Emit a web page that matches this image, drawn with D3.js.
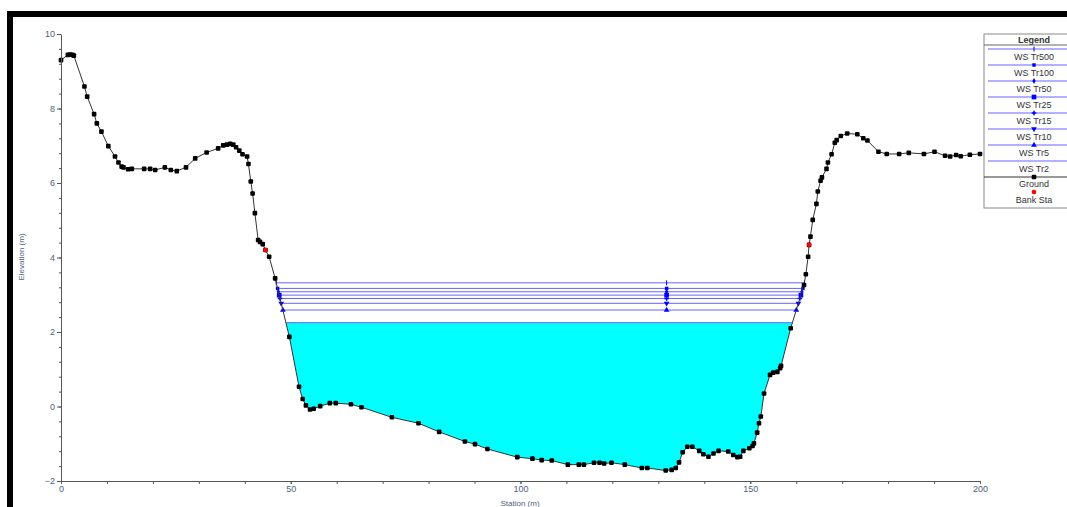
<!DOCTYPE html>
<html>
<head>
<meta charset="utf-8">
<script src="https://cdn.jsdelivr.net/npm/d3@7"></script>
<style>
  body { margin: 0; background: #fff; }
  svg { display: block; font-family: "Liberation Sans", Arial, sans-serif; }
</style>
</head>
<body>
<svg id="chart" width="1067" height="507"></svg>
<script>
// Ground profile (station m, elevation m)
const groundSta = [0, 1.5, 2.0, 2.5, 2.8, 5.1, 5.7, 7.2, 7.8, 8.8, 10.3, 11.75, 12.5, 13.2, 13.6, 14.6, 15.4,
  18.1, 19.4, 20.5, 22.6, 23.9, 25.2, 27.2, 29.2, 31.7, 34.2, 35.3, 36.1, 36.8, 37.5, 38.1, 38.8, 39.5,
  40.5, 40.8, 41.3, 41.7, 42.2, 42.9, 43.3, 43.9, 44.5, 45.3, 46.6, 49.7, 51.8, 52.6, 53.3, 54.2, 55.0,
  56.4, 58.5, 59.8, 63.1, 65.4, 72.0, 77.8, 82.3, 87.9, 90.1, 92.8, 99.3, 102.6, 104.6, 106.8, 110.3,
  112.7, 113.8, 116.0, 117.2, 118.2, 119.8, 122.7, 126.4, 127.6, 131.6, 132.9, 133.8, 134.5, 135.3,
  136.3, 137.4, 138.9, 139.8, 140.9, 142.0, 143.1, 145.2, 146.3, 147.2, 147.8, 148.5, 149.8, 150.5,
  150.8, 151.5, 151.9, 152.3, 153.0, 154.3, 155.0, 155.9, 156.5, 156.7, 158.8, 161.7, 162.1, 162.6,
  162.8, 163.1, 163.6, 164.4, 164.7, 165.3, 165.6, 166.6, 166.9, 167.7, 168.4, 168.8, 169.7, 171.1,
  173.3, 174.6, 175.5, 177.9, 179.7, 182.4, 184.5, 187.8, 190.1, 192.4, 193.5, 194.8, 195.8, 197.8, 200.0];
const groundElev = [9.30, 9.44, 9.45, 9.44, 9.42, 8.59, 8.32, 7.85, 7.60, 7.38, 6.99, 6.71, 6.55, 6.44, 6.42, 6.37, 6.38,
  6.38, 6.38, 6.35, 6.42, 6.35, 6.32, 6.42, 6.66, 6.82, 6.93, 7.01, 7.03, 7.05, 7.03, 6.96, 6.87, 6.77,
  6.71, 6.51, 6.04, 5.72, 5.19, 4.47, 4.42, 4.36, 4.20, 4.02, 3.44, 1.87, 0.53, 0.20, 0.03, -0.08, -0.06,
  0.01, 0.09, 0.09, 0.06, -0.02, -0.29, -0.45, -0.68, -0.94, -1.01, -1.14, -1.36, -1.40, -1.44, -1.45, -1.56,
  -1.56, -1.56, -1.51, -1.51, -1.53, -1.51, -1.56, -1.65, -1.65, -1.72, -1.70, -1.65, -1.50, -1.23,
  -1.08, -1.08, -1.19, -1.28, -1.35, -1.26, -1.19, -1.21, -1.30, -1.36, -1.35, -1.19, -1.12, -1.06,
  -0.99, -0.70, -0.45, -0.27, 0.35, 0.85, 0.91, 0.93, 1.03, 1.09, 2.10, 3.26, 3.55, 4.02,
  4.34, 4.56, 5.01, 5.44, 5.77, 6.06, 6.15, 6.38, 6.55, 6.77, 7.08, 7.15, 7.26, 7.33,
  7.31, 7.20, 7.14, 6.84, 6.78, 6.78, 6.81, 6.78, 6.84, 6.73, 6.71, 6.75, 6.72, 6.76, 6.78];

// Bank stations
const bankSta = [44.5, 162.8];
const bankElev = [4.20, 4.34];

// Water surface profiles
const wsNames = ["WS Tr500", "WS Tr100", "WS Tr50", "WS Tr25", "WS Tr15", "WS Tr10", "WS Tr5", "WS Tr2"];
const wsElev = [3.32, 3.17, 3.08, 2.99, 2.90, 2.77, 2.59, 2.25];
const wsMarkers = ["tick", "square", "dot", "bigsquare", "arch", "triDown", "triUp", "none"];
const wsMidSta = 131.8;

// Axis ticks
const xTicks = [0, 50, 100, 150, 200];
const xMinor = d3.range(0, 201, 10);
const yTicks = [-2, 0, 2, 4, 6, 8, 10];
const yMinor = d3.range(-2, 10.01, 0.4);

const svg = d3.select("#chart");
const x = d3.scaleLinear().domain([0, 200]).range([61, 980]);
const y = d3.scaleLinear().domain([-2, 10]).range([481, 34]);

const ground = groundSta.map((s, i) => ({ s: s, e: groundElev[i] }));

// frame
svg.append("rect").attr("x", 10).attr("y", 14).attr("width", 1100).attr("height", 600)
  .attr("fill", "none").attr("stroke", "#000").attr("stroke-width", 6);

// Ground with crossings inserted for a given water elevation
function withCrossings(ws) {
  const pts = [];
  for (let i = 0; i < ground.length; i++) {
    const a = ground[i];
    pts.push(a);
    const b = ground[i + 1];
    if (b && (a.e - ws) * (b.e - ws) < 0) {
      const t = (ws - a.e) / (b.e - a.e);
      pts.push({ s: a.s + t * (b.s - a.s), e: ws });
    }
  }
  return pts;
}
function crossings(ws) {
  const c = [];
  for (let i = 0; i < ground.length - 1; i++) {
    const a = ground[i], b = ground[i + 1];
    if ((a.e - ws) * (b.e - ws) <= 0 && a.e !== b.e) {
      c.push(a.s + (ws - a.e) / (b.e - a.e) * (b.s - a.s));
    }
  }
  return [c[0], c[c.length - 1]];
}

// Filled lowest profile (Tr2)
const wsLow = wsElev[wsElev.length - 1];
const fillArea = d3.area()
  .x(d => x(d.s))
  .y0(y(wsLow))
  .y1(d => y(Math.min(d.e, wsLow)));
svg.append("path").datum(withCrossings(wsLow))
  .attr("d", fillArea).attr("fill", "#00ffff");

// Water surface lines
const wsColor = "#6464ff";
wsElev.forEach((ws, i) => {
  const c = crossings(ws);
  svg.append("line")
    .attr("x1", x(c[0])).attr("x2", x(c[1]))
    .attr("y1", y(ws)).attr("y2", y(ws))
    .attr("stroke", wsColor).attr("stroke-width", 1);
});

// marker drawer
function drawMarker(g, type, cx, cy, color) {
  if (type === "none") return;
  if (type === "tick") {
    g.append("line").attr("x1", cx).attr("x2", cx).attr("y1", cy - 2.5).attr("y2", cy + 2.5)
      .attr("stroke", color).attr("stroke-width", 1);
    return;
  }
  let sym, size;
  if (type === "square") { sym = d3.symbolSquare; size = 12; }
  else if (type === "bigsquare") { sym = d3.symbolSquare; size = 22; }
  else if (type === "dot") { sym = d3.symbolDiamond; size = 10; }
  else if (type === "arch") { sym = d3.symbolCross; size = 12; }
  else if (type === "triDown") { sym = d3.symbolTriangle; size = 14; }
  else { sym = d3.symbolTriangle; size = 14; }
  const rot = type === "triDown" ? 180 : 0;
  g.append("path").attr("d", d3.symbol().type(sym).size(size)())
    .attr("transform", "translate(" + cx + "," + cy + ") rotate(" + rot + ")")
    .attr("fill", color);
}

// WS markers at bank ends and mid channel
const markG = svg.append("g");
wsElev.forEach((ws, i) => {
  const c = crossings(ws);
  [c[0], wsMidSta, c[1]].forEach(s => drawMarker(markG, wsMarkers[i], x(s), y(ws), "#0000ff"));
});

// Ground line
svg.append("path").datum(ground)
  .attr("d", d3.line().x(d => x(d.s)).y(d => y(d.e)))
  .attr("fill", "none").attr("stroke", "#333").attr("stroke-width", 1);
svg.append("g").selectAll("rect").data(ground).enter().append("rect")
  .attr("x", d => x(d.s) - 2.3).attr("y", d => y(d.e) - 2.3)
  .attr("width", 4.6).attr("height", 4.6).attr("rx", 1)
  .attr("fill", "#000");

// Bank stations
svg.append("g").selectAll("circle").data(bankSta).enter().append("circle")
  .attr("cx", d => x(d)).attr("cy", (d, i) => y(bankElev[i])).attr("r", 2.3)
  .attr("fill", "#ff0000");

// Axes
const labelColor = "#4f5d7c";
const yAxis = svg.append("g").attr("transform", "translate(61,0)")
  .call(d3.axisLeft(y).tickValues(yTicks).tickSize(4).tickSizeOuter(0).tickPadding(2));
svg.append("g").attr("transform", "translate(61,0)")
  .call(d3.axisLeft(y).tickValues(yMinor).tickSize(2).tickSizeOuter(0).tickFormat(""))
  .select(".domain").remove();
const xAxis = svg.append("g").attr("transform", "translate(0,481)")
  .call(d3.axisBottom(x).tickValues(xTicks).tickSize(3).tickSizeOuter(0).tickPadding(2));
svg.append("g").attr("transform", "translate(0,481)")
  .call(d3.axisBottom(x).tickValues(xMinor).tickSize(3).tickSizeOuter(0).tickFormat(""))
  .select(".domain").remove();
svg.selectAll(".tick line").attr("stroke", "#555");
svg.selectAll(".domain").attr("stroke", "#555");
svg.selectAll(".tick text").attr("fill", labelColor).style("font-size", "9px")
  .style("font-family", "'Liberation Sans', Arial, sans-serif");

// Axis titles
svg.append("text").attr("x", 520).attr("y", 506).attr("text-anchor", "middle")
  .attr("fill", "#4f5d7c").style("font-size", "8px").text("Station (m)");
svg.append("text").attr("transform", "translate(24,257) rotate(-90)").attr("text-anchor", "middle")
  .attr("fill", "#4f5d7c").style("font-size", "8px").text("Elevation (m)");

// Legend
const lg = svg.append("g");
const lx = 984, lw = 100, lcx = 1034;
lg.append("rect").attr("x", lx).attr("y", 34).attr("width", lw).attr("height", 174)
  .attr("fill", "#fff").attr("stroke", "#888").attr("stroke-width", 1);
lg.append("text").attr("x", lcx).attr("y", 42.5).attr("text-anchor", "middle")
  .style("font-size", "9px").style("font-weight", "bold").attr("fill", "#333").text("Legend");
lg.append("line").attr("x1", lx).attr("x2", lx + lw).attr("y1", 45).attr("y2", 45)
  .attr("stroke", "#666");
wsNames.forEach((n, i) => {
  const ly = 49 + 16 * i;
  lg.append("line").attr("x1", lx + 4).attr("x2", lx + lw).attr("y1", ly).attr("y2", ly)
    .attr("stroke", wsColor).attr("stroke-width", 1);
  drawMarker(lg, wsMarkers[i], lcx, ly, "#0000ff");
  lg.append("text").attr("x", lcx).attr("y", ly + 11).attr("text-anchor", "middle")
    .style("font-size", "9px").attr("fill", "#333").text(n);
});
const gy = 49 + 16 * wsNames.length;
lg.append("line").attr("x1", lx).attr("x2", lx + lw).attr("y1", gy).attr("y2", gy)
  .attr("stroke", "#333");
lg.append("rect").attr("x", lcx - 2.3).attr("y", gy - 2.3).attr("width", 4.6).attr("height", 4.6)
  .attr("rx", 1).attr("fill", "#000");
lg.append("text").attr("x", lcx).attr("y", gy + 10).attr("text-anchor", "middle")
  .style("font-size", "9px").attr("fill", "#333").text("Ground");
lg.append("circle").attr("cx", lcx).attr("cy", gy + 15).attr("r", 2.3).attr("fill", "#ff0000");
lg.append("text").attr("x", lcx).attr("y", gy + 26).attr("text-anchor", "middle")
  .style("font-size", "9px").attr("fill", "#333").text("Bank Sta");
</script>
</body>
</html>
